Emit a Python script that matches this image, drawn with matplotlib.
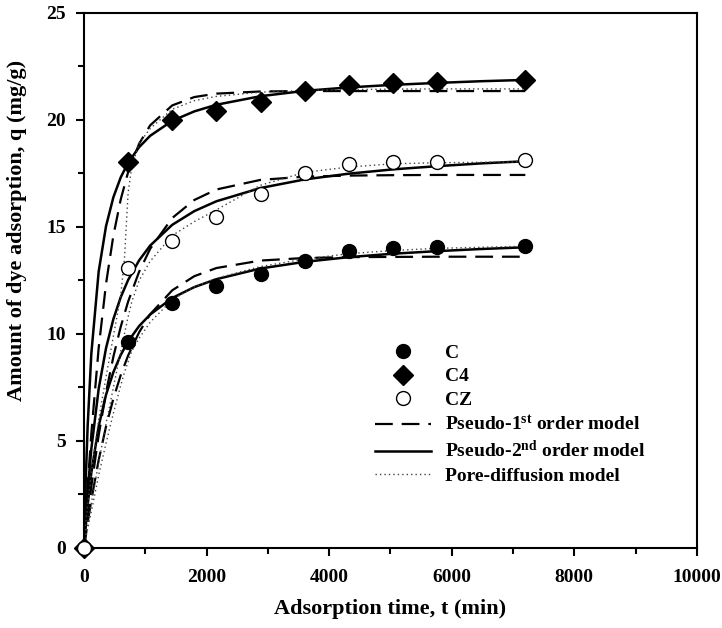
import numpy as np
import matplotlib
matplotlib.use('Agg')
import matplotlib.pyplot as plt
from matplotlib.lines import Line2D

plt.rcParams['font.family'] = ['Liberation Serif', 'DejaVu Serif']
plt.rcParams['font.weight'] = 'bold'
plt.rcParams['mathtext.fontset'] = 'custom'
plt.rcParams['mathtext.rm'] = 'Liberation Serif:bold'
plt.rcParams['mathtext.bf'] = 'Liberation Serif:bold'
plt.rcParams['mathtext.it'] = 'Liberation Serif:bold'

# experimental points (min, mg/g)
t_exp = [0, 720, 1440, 2160, 2880, 3600, 4320, 5040, 5760, 7200]
q_C = [0, 9.64, 11.46, 12.22, 12.78, 13.41, 13.89, 14.0, 14.08, 14.11]
q_C4 = [0, 18.02, 20.0, 20.43, 20.83, 21.35, 21.64, 21.72, 21.78, 21.88]
q_CZ = [0, 13.07, 14.36, 15.45, 16.53, 17.54, 17.93, 18.02, 18.05, 18.13]

# model curves
t_mod = [0, 30, 60, 120, 240, 360, 480, 600, 720, 900, 1080, 1440, 1800,
         2160, 2880, 3600, 4320, 5040, 5760, 6480, 7200]

p1_C = [0, 0.60, 1.17, 2.24, 4.11, 5.68, 6.98, 8.08, 8.99, 10.08, 10.92,
        12.04, 12.70, 13.08, 13.43, 13.55, 13.59, 13.60, 13.61, 13.61, 13.61]
p1_C4 = [0, 1.48, 2.86, 5.34, 9.35, 12.35, 14.60, 16.29, 17.56, 18.89, 19.75,
         20.68, 21.07, 21.23, 21.33, 21.35, 21.35, 21.35, 21.35, 21.35, 21.35]
p1_CZ = [0, 0.77, 1.50, 2.87, 5.27, 7.27, 8.94, 10.34, 11.51, 12.91, 13.98,
         15.42, 16.26, 16.75, 17.20, 17.35, 17.40, 17.42, 17.43, 17.43, 17.43]

p2_C = [0, 1.07, 2.00, 3.52, 5.69, 7.16, 8.22, 9.02, 9.65, 10.37, 10.91,
        11.68, 12.19, 12.56, 13.06, 13.37, 13.59, 13.75, 13.87, 13.97, 14.05]
p2_C4 = [0, 3.26, 5.69, 9.08, 12.92, 15.04, 16.39, 17.32, 18.0, 18.73, 19.26,
         19.96, 20.40, 20.71, 21.11, 21.36, 21.52, 21.64, 21.73, 21.81, 21.87]
p2_CZ = [0, 1.42, 2.64, 4.63, 7.44, 9.34, 10.70, 11.72, 12.52, 13.44, 14.13,
         15.10, 15.74, 16.20, 16.82, 17.22, 17.49, 17.69, 17.84, 17.97, 18.07]

t_pd = [0, 30, 60, 120, 240, 360, 480, 600, 660, 720, 780, 900, 1080, 1440,
        1800, 2160, 2880, 3600, 4320, 5040, 5760, 6480, 7200]
pd_C = [0, 0.5, 0.9, 1.7, 3.4, 4.9, 6.3, 7.6, 8.2, 8.7, 9.2, 9.8, 10.55, 11.6,
        12.2, 12.6, 13.15, 13.5, 13.75, 13.9, 14.0, 14.05, 14.1]
pd_C4 = [0, 1.2, 2.0, 3.5, 6.0, 8.0, 9.9, 11.8, 13.5, 16.6, 17.8, 18.9, 19.6,
         20.5, 20.9, 21.1, 21.3, 21.38, 21.42, 21.44, 21.45, 21.45, 21.45]
pd_CZ = [0, 0.6, 1.1, 2.1, 4.0, 5.8, 7.5, 9.2, 10.0, 10.8, 11.5, 12.5, 13.4,
         14.6, 15.25, 15.8, 16.95, 17.55, 17.8, 17.95, 18.0, 18.02, 18.05]

fig = plt.figure(figsize=(7.22, 6.28), dpi=100)
ax = fig.add_axes([0.1163, 0.1274, 0.849, 0.852])

dash = (8, 4)
for y in (p1_C, p1_C4, p1_CZ):
    ax.plot(t_mod, y, color='black', lw=1.6, dashes=dash)
for y in (p2_C, p2_C4, p2_CZ):
    ax.plot(t_mod, y, color='black', lw=1.8)
for y in (pd_C, pd_C4, pd_CZ):
    ax.plot(t_pd, y, color='#444444', lw=1.0, dashes=(1, 2.2))

ax.plot(t_exp, q_C, 'o', color='black', ms=10, clip_on=False, zorder=5)
ax.plot(t_exp, q_C4, 'D', color='black', ms=10, clip_on=False, zorder=5)
ax.plot(t_exp, q_CZ, 'o', mfc='white', mec='black', mew=1.0, ms=10,
        clip_on=False, zorder=6)

ax.set_xlim(0, 10000)
ax.set_ylim(0, 25)
ax.set_xticks([0, 2000, 4000, 6000, 8000, 10000])
ax.set_xticks(np.arange(1000, 10000, 2000), minor=True)
ax.set_yticks([0, 5, 10, 15, 20, 25])
ax.set_yticks(np.arange(2.5, 25, 5), minor=True)
ax.tick_params(which='major', direction='out', length=6, width=1.5, labelsize=14)
ax.tick_params(axis='x', which='major', pad=9)
ax.tick_params(axis='y', which='major', pad=7)
ax.tick_params(which='minor', direction='out', length=4, width=1.5)
for s in ax.spines.values():
    s.set_linewidth(1.5)

ax.set_xlabel('Adsorption time, t (min)', fontsize=16, fontweight='bold')
ax.set_ylabel('Amount of dye adsorption, q (mg/g)', fontsize=16, fontweight='bold')
ax.xaxis.set_label_coords(0.5, -0.096)
ax.yaxis.set_label_coords(-0.093, 0.594)

handles = [
    Line2D([], [], ls='none', marker='o', color='black', ms=10),
    Line2D([], [], ls='none', marker='D', color='black', ms=10),
    Line2D([], [], ls='none', marker='o', mfc='white', mec='black', ms=10),
    Line2D([], [], color='black', lw=1.6, dashes=dash),
    Line2D([], [], color='black', lw=1.8),
    Line2D([], [], color='#444444', lw=1.0, dashes=(1, 2.2)),
]
labels = ['C', 'C4', 'CZ', 'Pseudo-1$^{st}$ order model',
          'Pseudo-2$^{nd}$ order model', 'Pore-diffusion model']
ax.legend(handles, labels, loc='upper left', bbox_to_anchor=(0.462, 0.395),
          frameon=False, fontsize=14, handlelength=2.9, handletextpad=0.7,
          labelspacing=0.3, borderaxespad=0)

fig.savefig('out.png', dpi=100)
